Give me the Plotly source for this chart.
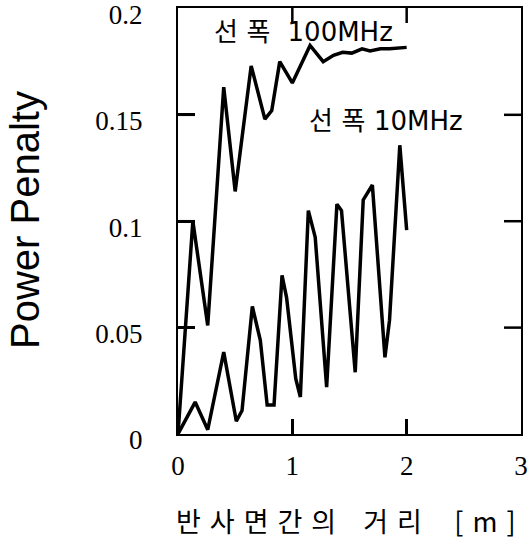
import plotly.graph_objects as go

# 선폭 100MHz curve
x_100 = [0.0, 0.13, 0.26, 0.40, 0.50, 0.64, 0.76, 0.82, 0.89, 1.00, 1.155, 1.27, 1.36, 1.44, 1.52, 1.61, 1.68, 1.77, 1.85, 2.00]
y_100 = [0.0, 0.100, 0.051, 0.163, 0.114, 0.173, 0.148, 0.152, 0.175, 0.165, 0.1826, 0.175, 0.178, 0.1794, 0.179, 0.181, 0.180, 0.181, 0.181, 0.1817]

# 선폭 10MHz curve
x_10 = [0.0, 0.15, 0.26, 0.40, 0.51, 0.56, 0.65, 0.72, 0.78, 0.84, 0.91, 0.95, 1.03, 1.07, 1.14, 1.20, 1.30, 1.39, 1.43, 1.55, 1.62, 1.70, 1.81, 1.85, 1.94, 2.00]
y_10 = [0.0, 0.015, 0.002, 0.0385, 0.006, 0.011, 0.060, 0.044, 0.0136, 0.0136, 0.0746, 0.064, 0.026, 0.0174, 0.105, 0.0925, 0.022, 0.108, 0.105, 0.029, 0.110, 0.117, 0.036, 0.0535, 0.1357, 0.0958]

x_ticks = [0, 1, 2, 3]
y_ticks = [0, 0.05, 0.1, 0.15, 0.2]
y_ticktext = ["0", "0.05", "0.1", "0.15", "0.2"]

label_100 = "선\u2004폭\u2004\u2004100MHz"
label_10 = "선\u2004폭\u200410MHz"
x_title = "반\u2004사\u2004면\u2004간\u2004의\u3000거\u2004리\u3000\u2009[\u2004m\u2004]"
y_title = "Power Penalty"

line_style = dict(color="black", width=3.5)

fig = go.Figure()
fig.add_trace(go.Scatter(x=x_100, y=y_100, mode="lines", line=line_style, name=label_100))
fig.add_trace(go.Scatter(x=x_10, y=y_10, mode="lines", line=line_style, name=label_10))

serif = dict(family="Liberation Serif, Times New Roman, serif", size=27, color="black")
ann_font = dict(family="DejaVu Sans, Noto Sans CJK KR, sans-serif", size=26, color="black")

x_range = [0, 3]
y_range = [0, 0.2002]

common = dict(ticks="inside", tickwidth=2.5, tickcolor="black", showline=True,
              linecolor="black", linewidth=2, mirror=True, showgrid=False,
              zeroline=False, automargin=False, layer="above traces")

# inside tick marks on all four sides (interior tick values only)
tick_style = dict(color="black", width=2.5)
shapes = []
for xv in x_ticks[1:-1]:
    shapes.append(dict(type="line", xref="x", yref="y", ysizemode="pixel", yanchor=y_range[0],
                       x0=xv, x1=xv, y0=0, y1=15, line=tick_style, layer="above"))
    shapes.append(dict(type="line", xref="x", yref="y", ysizemode="pixel", yanchor=y_range[1],
                       x0=xv, x1=xv, y0=-15, y1=0, line=tick_style, layer="above"))
for yv in y_ticks[1:-1]:
    shapes.append(dict(type="line", xref="x", yref="y", xsizemode="pixel", xanchor=x_range[0],
                       x0=0, x1=17, y0=yv, y1=yv, line=tick_style, layer="above"))
    shapes.append(dict(type="line", xref="x", yref="y", xsizemode="pixel", xanchor=x_range[1],
                       x0=-17, x1=0, y0=yv, y1=yv, line=tick_style, layer="above"))

fig.update_layout(
    width=528, height=545,
    margin=dict(l=178, r=7, t=8, b=111),
    paper_bgcolor="white", plot_bgcolor="white",
    showlegend=False,
    shapes=shapes,
    xaxis=dict(range=x_range, tickvals=x_ticks, ticklen=15, tickfont=serif,
               ticklabelstandoff=7, **common),
    yaxis=dict(range=y_range, tickvals=y_ticks, ticktext=y_ticktext, ticklen=17,
               tickfont=serif, ticklabeloverflow="allow", ticklabelstandoff=28,
               ticklabelshift=6, **common),
    annotations=[
        dict(text=label_100, x=1.10, y=0.1887, xref="x", yref="y", showarrow=False,
             xanchor="center", yanchor="middle", font=ann_font),
        dict(text=label_10, x=1.82, y=0.147, xref="x", yref="y", showarrow=False,
             xanchor="center", yanchor="middle", font=ann_font),
        dict(text=x_title, x=(346 - 178) / 343, y=-(520 - 434) / 426, xref="paper", yref="paper",
             showarrow=False, xanchor="center", yanchor="middle",
             font=dict(family="Noto Sans CJK KR, sans-serif", size=27, color="black")),
        dict(text=y_title, x=-(178 - 25) / 343, y=(434 - 220) / 426, xref="paper", yref="paper",
             showarrow=False, xanchor="center", yanchor="middle", textangle=-90,
             font=dict(family="Liberation Sans, Arial, sans-serif", size=40, color="black")),
    ],
)

fig.write_html("out.html")
